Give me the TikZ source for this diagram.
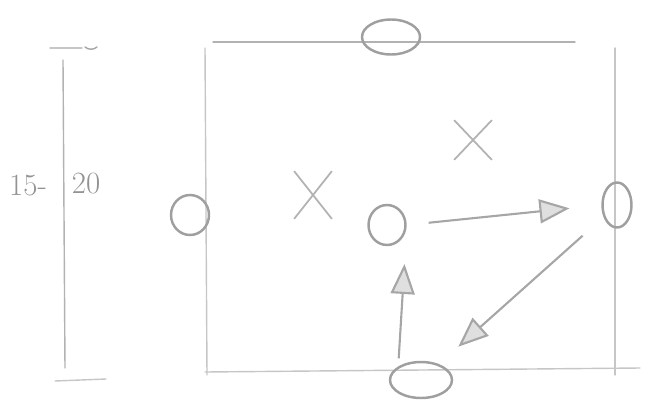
\documentclass[tikz,border=0pt]{standalone}
\usepackage{fontspec}
\usetikzlibrary{shapes.geometric,shapes.misc,arrows.meta}
\begin{document}
\begin{tikzpicture}[
    x=0.05cm, y=-0.05cm,
    field/.style={draw=gray!45, line width=2pt, line cap=round},
    player/.style={ellipse, draw=gray!75, line width=3.5pt, inner sep=0pt},
    cone/.style={cross out, draw=gray!60, line width=2.5pt, inner sep=0pt},
    arrow/.style={-{Triangle[length=1.5cm, width=1.2cm, fill=gray!25]}, draw=gray!70, line width=3pt},
    label/.style={text=gray!85, font=\fontsize{44}{48}\selectfont}
]
\useasboundingbox (0,0) rectangle (645,405);

% Field
\draw[field, draw=gray!60] (213,42) -- (575,42);
\draw[field] (205,48) -- (207,375);
\draw[field] (615,48) -- (615,375);
\draw[field] (205,372) -- (640,368);

% Scale bar
\draw[field, draw=gray!60] (63,60) -- (65,368);
\draw[field] (50,48) -- (82,48);
\draw[field, draw=gray!70] (85,47) to[bend right=40] (97,47);
\draw[field] (55,381) -- (106,379);
\node[label] (min) at (28,186) {15-};
\node[label] (max) at (86,184) {20};

% Players
\node[player, minimum width=2.9cm, minimum height=1.75cm] (top) at (391,37) {};
\node[player, minimum width=1.9cm, minimum height=2cm] (left) at (190,215) {};
\node[player, minimum width=1.85cm, minimum height=2cm] (centre) at (387,225) {};
\node[player, minimum width=1.45cm, minimum height=2.25cm] (right) at (617,205) {};
\node[player, minimum width=3.1cm, minimum height=1.8cm] (bottom) at (421,380) {};

% Cones
\node[cone, minimum width=1.8cm, minimum height=2.3cm] (conea) at (313,195) {};
\node[cone, minimum width=1.8cm, minimum height=1.9cm] (coneb) at (473,140) {};

% Passes
\draw[arrow, shorten <=1.1cm, shorten >=1.6cm] (centre.east) -- (right.west);
\draw[arrow, shorten <=1.4cm, shorten >=1.3cm] (right) -- (bottom);
\draw[arrow, shorten <=0.4cm, shorten >=1.2cm] (bottom.north west) -- ([xshift=0.25cm]centre.south east);

\end{tikzpicture}
\end{document}
